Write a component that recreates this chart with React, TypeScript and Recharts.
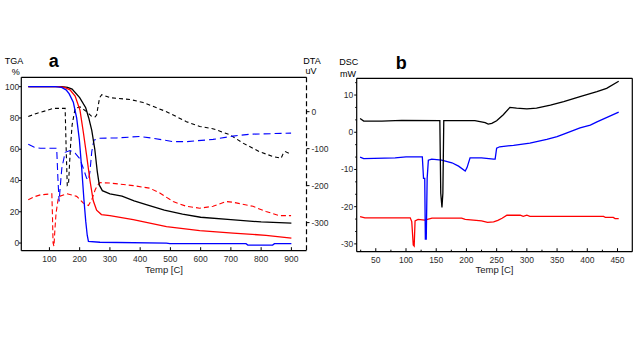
import React from 'react';
import { LineChart, Line, XAxis, YAxis, ReferenceLine } from 'recharts';

// ---------- Panel a: TGA (%) and DTA (uV) vs Temp [C] ----------
const tgaBlack: number[][] = [[30,100],[140,100],[160,99.5],[175,98.5],[200,93],[220,86.5],[230,80],[240,72],[250,60],[258,46],[265,37],[275,33.5],[300,31.5],[340,30],[380,27],[420,24.5],[480,21],[540,18.5],[600,16.5],[700,15],[800,13.5],[900,12.8]];
const tgaRed: number[][] = [[30,100],[130,100],[150,99.5],[168,98],[185,94],[201,85],[212,71],[223,56],[234,40],[245,27],[256,21],[272,18.2],[300,17.5],[377,15],[487,10.5],[597,8],[707,6.4],[816,4.9],[900,3.2]];
const tgaBlue: number[][] = [[30,100],[120,100],[140,99.5],[155,98],[165,95.5],[179,90],[190,80],[199,66],[207,47],[214,28],[220,14],[225,5],[229,1],[267,0.5],[487,0],[498,-0.4],[750,-0.4],[756,-1.3],[838,-1.3],[844,-0.4],[900,-0.4]];

const dtaBlack: number[][] = [[30,-13],[60,-4],[90,3],[113,9],[152,9],[155,-90],[159,-200],[163,-198],[166,-150],[170,-90],[175,-36],[185,9],[201,13],[223,0],[240,-13],[251,-14],[256,-9],[262,20],[266,38],[273,46],[300,38],[366,33],[410,25],[487,0],[553,-27],[597,-40],[640,-46],[696,-62],[740,-85],[794,-108],[838,-121],[866,-126],[872,-115],[880,-108],[899,-115]];
const dtaBlue: number[][] = [[30,-88],[50,-96],[70,-99],[124,-99],[128,-180],[132,-243],[136,-200],[141,-153],[152,-110],[168,-105],[185,-112],[201,-128],[212,-153],[223,-180],[229,-185],[234,-162],[240,-108],[247,-77],[262,-72],[322,-71],[399,-67],[443,-72],[509,-81],[553,-81],[641,-75],[707,-66],[762,-61],[899,-58]];
const dtaRed: number[][] = [[30,-238],[50,-230],[70,-225],[108,-222],[110,-280],[112,-355],[115,-364],[118,-320],[122,-274],[130,-230],[157,-222],[190,-229],[212,-247],[229,-254],[240,-238],[251,-212],[258,-200],[267,-192],[300,-193],[377,-200],[432,-207],[465,-220],[509,-243],[553,-256],[597,-261],[641,-256],[685,-243],[707,-245],[773,-256],[816,-270],[860,-281],[899,-281]];

const tempTicksA = [100, 200, 300, 400, 500, 600, 700, 800, 900];
const tgaTicks = [0, 20, 40, 60, 80, 100];
const dtaTicks = [-300, -200, -100, 0];

// ---------- Panel b: DSC (mW) vs Temp [C] ----------
const dscBlack: number[][] = [[24,3.7],[30,3.0],[60,3.0],[93,3.2],[156,3.1],[157.5,-16.4],[159.5,-20.2],[161,-16.4],[162.5,3.1],[214,3.1],[231,2.6],[236,2.2],[242,2.4],[250,3.1],[261,4.7],[272,6.7],[283,6.5],[300,6.3],[316,6.5],[339,7.3],[361,8.2],[388,9.6],[416,10.9],[432,11.8],[452,13.7]];
const dscBlue: number[][] = [[24,-6.7],[30,-7.1],[82,-6.9],[100,-6.6],[127,-6.6],[129,-12.4],[131,-12.4],[132,-28.7],[133.5,-28.7],[135,-12.4],[137,-7.5],[142.5,-7.2],[159,-7.5],[176,-8.2],[187,-9.1],[198,-10.4],[201,-9.5],[206,-6.9],[225,-6.9],[245,-7.2],[247.5,-7.2],[250,-4.3],[255,-3.9],[278,-3.5],[305,-2.9],[333,-1.9],[350,-1.2],[361,-0.5],[388,1.2],[405,1.9],[416,2.8],[452,5.4]];
const dscRed: number[][] = [[24,-22.7],[32,-23.0],[107,-23.0],[109.5,-24.0],[112,-30.3],[113.5,-30.6],[115,-23.8],[120,-23.4],[131,-23.6],[143,-23.1],[192,-23.1],[198,-23.4],[225,-23.8],[235,-24.2],[245,-24.1],[252,-23.7],[259,-23.1],[267,-22.3],[289,-22.3],[294,-22.6],[300,-22.3],[305,-22.6],[427,-22.6],[430,-22.9],[443,-22.9],[446,-23.2],[452,-23.2]];

const tempTicksB = [50, 100, 150, 200, 250, 300, 350, 400, 450];
const tempMinorB = [25, 75, 125, 175, 225, 275, 325, 375, 425];
const dscTicks = [-30, -20, -10, 0, 10];
const dscMinor = [-26.67, -23.33, -16.67, -13.33, -6.67, -3.33, 3.33, 6.67, 13.33];

const toPts = (arr: number[][]) => arr.map(([x, y]) => ({ x, y }));

const FONT = '"Liberation Sans", Arial, sans-serif';
const TICK_FILL = '#2b2b2b';
const TICK_FS = 8.5;

const makeXTick = (majors: number[]) => (props: any) => {
  const { x, y, payload } = props;
  const v = payload.value;
  const major = majors.indexOf(v) >= 0;
  return (
    <g>
      <line x1={x} x2={x} y1={y} y2={y - (major ? 3.5 : 2)} stroke="#000" strokeWidth={1} />
      {major && (
        <text x={x} y={y + 11} textAnchor="middle" fontSize={TICK_FS} fontFamily={FONT} fill={TICK_FILL}>
          {v}
        </text>
      )}
    </g>
  );
};

const makeLeftTick = (majors: number[], gap: number) => (props: any) => {
  const { x, y, payload } = props;
  const v = payload.value;
  const major = majors.indexOf(v) >= 0;
  return (
    <g>
      <line x1={x} x2={x - (major ? 2.5 : 1.5)} y1={y} y2={y} stroke="#000" strokeWidth={1} />
      {major && (
        <text x={x - gap} y={y + 3} textAnchor="end" fontSize={TICK_FS} fontFamily={FONT} fill={TICK_FILL}>
          {v}
        </text>
      )}
    </g>
  );
};

const RightTick = (props: any) => {
  const { x, y, payload } = props;
  return (
    <g>
      <line x1={x} x2={x + 3} y1={y} y2={y} stroke="#000" strokeWidth={1} />
      <text x={x + 5} y={y + 3} textAnchor="start" fontSize={TICK_FS} fontFamily={FONT} fill={TICK_FILL}>
        {payload.value}
      </text>
    </g>
  );
};

const TGA_DOMAIN: [number, number] = [-4.9, 106];
const DTA_DOMAIN: [number, number] = [-376, 93];
const XA_DOMAIN: [number, number] = [7, 950];
const XB_DOMAIN: [number, number] = [18.4, 474.5];
const DSC_DOMAIN: [number, number] = [-32.1, 14.5];

const lineCommon = {
  type: 'linear' as const,
  dataKey: 'y',
  dot: false,
  activeDot: false,
  isAnimationActive: false,
};

export default function App() {
  return (
    <div style={{ position: 'absolute', left: 0, top: 0, width: 637, height: 355, background: '#fff', overflow: 'hidden' }}>
      <div style={{ position: 'absolute', left: 0, top: 0 }}>
        <LineChart width={330} height={290} margin={{ top: 77.3, right: 0, bottom: 19.3, left: 0 }}>
          <XAxis
            xAxisId="t"
            dataKey="x"
            type="number"
            domain={XA_DOMAIN}
            allowDataOverflow
            ticks={tempTicksA}
            interval={0}
            tickSize={0}
            tickMargin={0}
            tickLine={false}
            tick={makeXTick(tempTicksA)}
            axisLine={{ stroke: '#000', strokeWidth: 1.2 }}
            height={20}
          />
          <YAxis
            yAxisId="tga"
            type="number"
            domain={TGA_DOMAIN}
            allowDataOverflow
            ticks={tgaTicks}
            interval={0}
            tickSize={0}
            tickMargin={0}
            tickLine={false}
            tick={makeLeftTick(tgaTicks, 2)}
            axisLine={{ stroke: '#000', strokeWidth: 1.2 }}
            width={21.3}
          />
          <YAxis
            yAxisId="dta"
            orientation="right"
            type="number"
            domain={DTA_DOMAIN}
            allowDataOverflow
            ticks={dtaTicks}
            interval={0}
            tickSize={0}
            tickMargin={0}
            tickLine={false}
            tick={RightTick}
            axisLine={{ stroke: '#000', strokeWidth: 1.2, strokeDasharray: '5 3' }}
            width={23.5}
          />
          <ReferenceLine xAxisId="t" yAxisId="tga" y={TGA_DOMAIN[1]} stroke="#000" strokeWidth={1.2} />
          <Line {...lineCommon} xAxisId="t" yAxisId="dta" data={toPts(dtaBlack)} stroke="#000" strokeWidth={1.1} strokeDasharray="4 3" />
          <Line {...lineCommon} xAxisId="t" yAxisId="dta" data={toPts(dtaRed)} stroke="#ff0000" strokeWidth={1.1} strokeDasharray="5 3" />
          <Line {...lineCommon} xAxisId="t" yAxisId="dta" data={toPts(dtaBlue)} stroke="#0000ff" strokeWidth={1.1} strokeDasharray="7 4" />
          <Line {...lineCommon} xAxisId="t" yAxisId="tga" data={toPts(tgaBlack)} stroke="#000" strokeWidth={1.3} />
          <Line {...lineCommon} xAxisId="t" yAxisId="tga" data={toPts(tgaRed)} stroke="#ff0000" strokeWidth={1.3} />
          <Line {...lineCommon} xAxisId="t" yAxisId="tga" data={toPts(tgaBlue)} stroke="#0000ff" strokeWidth={1.3} />
        </LineChart>
      </div>

      <div style={{ position: 'absolute', left: 330, top: 0 }}>
        <LineChart width={307} height={290} margin={{ top: 78.3, right: 4.7, bottom: 18.3, left: 0 }}>
          <XAxis
            xAxisId="t"
            dataKey="x"
            type="number"
            domain={XB_DOMAIN}
            allowDataOverflow
            ticks={[...tempMinorB, ...tempTicksB].sort((a, b) => a - b)}
            interval={0}
            tickSize={0}
            tickMargin={0}
            tickLine={false}
            tick={makeXTick(tempTicksB)}
            axisLine={{ stroke: '#000', strokeWidth: 1.2 }}
            height={20}
          />
          <YAxis
            yAxisId="dsc"
            type="number"
            domain={DSC_DOMAIN}
            allowDataOverflow
            ticks={[...dscMinor, ...dscTicks].sort((a, b) => a - b)}
            interval={0}
            tickSize={0}
            tickMargin={0}
            tickLine={false}
            tick={makeLeftTick(dscTicks, 3.4)}
            axisLine={{ stroke: '#000', strokeWidth: 1.2 }}
            width={26.7}
          />
          <ReferenceLine xAxisId="t" yAxisId="dsc" y={DSC_DOMAIN[1]} stroke="#000" strokeWidth={1.2} />
          <ReferenceLine xAxisId="t" yAxisId="dsc" x={XB_DOMAIN[1]} stroke="#000" strokeWidth={1.2} />
          <Line {...lineCommon} xAxisId="t" yAxisId="dsc" data={toPts(dscRed)} stroke="#ff0000" strokeWidth={1.3} />
          <Line {...lineCommon} xAxisId="t" yAxisId="dsc" data={toPts(dscBlue)} stroke="#0000ff" strokeWidth={1.3} />
          <Line {...lineCommon} xAxisId="t" yAxisId="dsc" data={toPts(dscBlack)} stroke="#000" strokeWidth={1.3} />
        </LineChart>
      </div>

      <svg width={637} height={355} style={{ position: 'absolute', left: 0, top: 0, pointerEvents: 'none' }}>
        <g fontFamily={FONT} fill="#000">
          <text x={14} y={64} fontSize={9} textAnchor="middle">TGA</text>
          <text x={15.8} y={75} fontSize={9} textAnchor="middle">%</text>
          <text x={53.7} y={66.7} fontSize={18} fontWeight="bold" textAnchor="middle">a</text>
          <text x={312} y={64} fontSize={9} textAnchor="middle">DTA</text>
          <text x={311} y={74.3} fontSize={9} textAnchor="middle">uV</text>
          <text x={164} y={273.3} fontSize={9.5} textAnchor="middle" fill="#222">Temp [C]</text>
          <text x={348.8} y={65} fontSize={9} textAnchor="middle">DSC</text>
          <text x={348} y={76.7} fontSize={9} textAnchor="middle">mW</text>
          <text x={401.3} y={69.3} fontSize={18} fontWeight="bold" textAnchor="middle">b</text>
          <text x={494.5} y={273.3} fontSize={9.5} textAnchor="middle" fill="#222">Temp [C]</text>
        </g>
      </svg>
    </div>
  );
}
